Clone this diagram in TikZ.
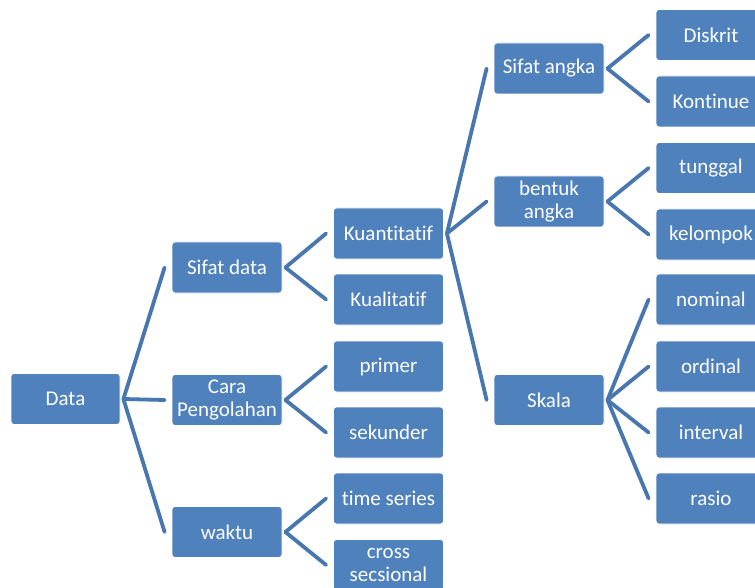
\documentclass[tikz,border=0pt]{standalone}
\usepackage{fontspec}
\setmainfont{Carlito}[Ligatures={NoCommon,NoContextual}]
\usetikzlibrary{calc}
\definecolor{boxblue}{HTML}{4F81BD}
\definecolor{lineblue}{HTML}{4876AE}
\begin{document}
\begin{tikzpicture}[x=1pt,y=-1pt,
  box/.style={draw=white, line width=0.8pt, fill=boxblue, rounded corners=3pt,
    minimum width=110pt, minimum height=51pt, inner sep=0pt, text=white,
    font=\fontsize{21}{23}\selectfont, align=center},
  conn/.style={draw=lineblue, line width=3.8pt, line cap=round}]
\clip (0,0) rectangle (755,588);
\fill[white] (0,0) rectangle (755,588);
% level 0
\node[box, minimum width=109pt] (data) at (65.5,399) {Data};
% level 1
\node[box] (sifat) at (227,267.5) {Sifat data};
\node[box] (cara) at (227,400) {Cara\\Pengolahan};
\node[box] (waktu) at (227,532) {waktu};
% level 2
\node[box] (kuan) at (388.5,233.5) {Kuantitatif};
\node[box] (kual) at (388.5,299.5) {Kualitatif};
\node[box] (primer) at (388.5,366.5) {primer};
\node[box] (sekunder) at (388.5,432.5) {sekunder};
\node[box] (time) at (388.5,498.5) {time series};
\node[box] (cross) at (388.5,565) {cross\\secsional};
% level 3
\node[box] (sangka) at (549,68.5) {Sifat angka};
\node[box] (bentuk) at (549,201.5) {bentuk\\angka};
\node[box] (skala) at (549,400) {Skala};
% level 4
\node[box] (diskrit) at (711,35) {Diskrit};
\node[box] (kontinue) at (711,101.5) {Kontinue};
\node[box] (tunggal) at (711,168) {tunggal};
\node[box] (kelompok) at (711,234.5) {kelompok};
\node[box] (nominal) at (711,299.5) {nominal};
\node[box] (ordinal) at (711,366.5) {ordinal};
\node[box] (interval) at (711,432.5) {interval};
\node[box] (rasio) at (711,498.5) {rasio};
% connectors
\foreach \p/\c in {data/sifat, data/cara, data/waktu,
  sifat/kuan, sifat/kual, cara/primer, cara/sekunder, waktu/time, waktu/cross,
  kuan/sangka, kuan/bentuk, kuan/skala,
  sangka/diskrit, sangka/kontinue, bentuk/tunggal, bentuk/kelompok,
  skala/nominal, skala/ordinal, skala/interval, skala/rasio}
  \draw[conn] ($(\p.east)+(3,0)$) -- ($(\c.west)+(-7,0)$);
\end{tikzpicture}
\end{document}
